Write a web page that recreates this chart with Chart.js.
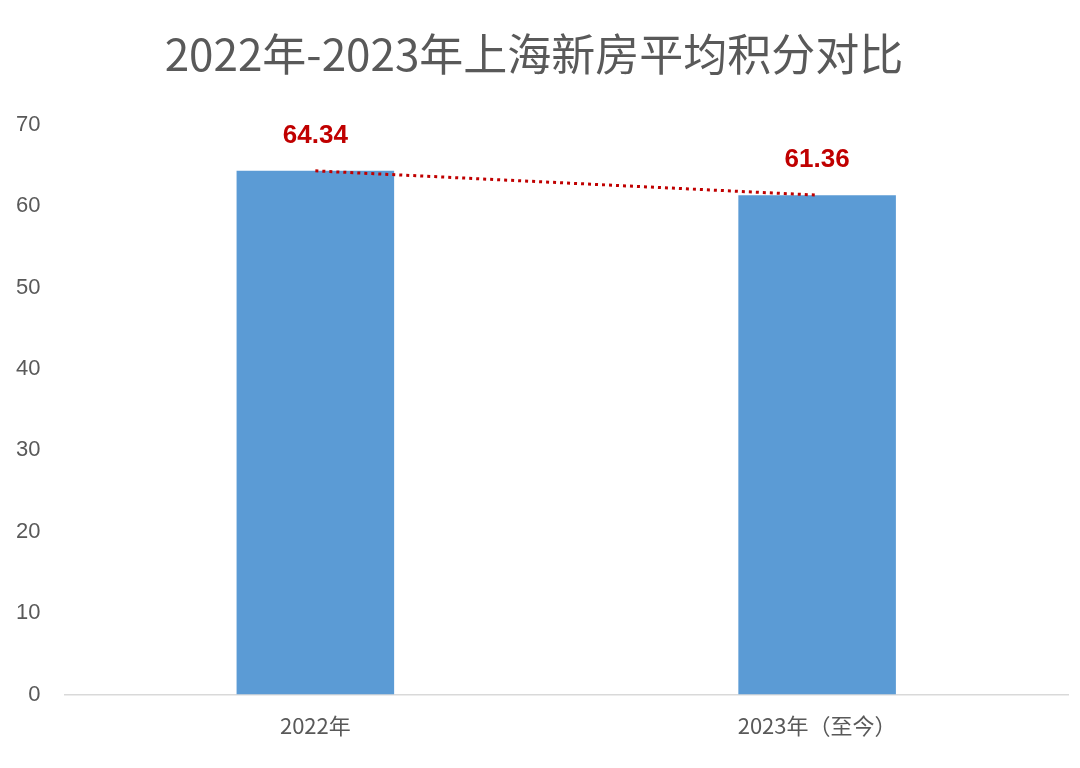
<!DOCTYPE html>
<html><head><meta charset="utf-8">
<script src="https://cdn.jsdelivr.net/npm/chart.js@4/dist/chart.umd.min.js"></script>
<style>html,body{margin:0;padding:0;background:#fff}#w{width:1080px;height:768px}</style>
</head><body><div id="w"><canvas id="c"></canvas></div>
<script>
const categories = ["2022年", "2023年（至今）"];
const values = [64.34, 61.36];
const yTicks = [0,10,20,30,40,50,60,70];
const font = "'Noto Sans CJK SC','Liberation Sans',sans-serif";
const labelPlugin = {
  id: 'lbl',
  afterDatasetsDraw(chart) {
    const meta = chart.getDatasetMeta(1);
    const ctx = chart.ctx;
    ctx.save();
    ctx.font = "bold 26px 'Liberation Sans',Arial,sans-serif";
    ctx.fillStyle = '#c00000';
    ctx.textAlign = 'center';
    ctx.textBaseline = 'bottom';
    meta.data.forEach((p, i) => ctx.fillText(values[i].toFixed(2), p.x, p.y - 22));
    ctx.restore();
  }
};
new Chart(document.getElementById('c'), {
  data: {
    labels: categories,
    datasets: [
      {type:'bar', data: values, backgroundColor:'#5b9bd5', barPercentage:0.314, categoryPercentage:1, order:2},
      {type:'line', data: values, borderColor:'#c00000', borderWidth:3, borderDash:[3,4], pointRadius:0, fill:false, order:1}
    ]
  },
  options: {
    responsive:true, maintainAspectRatio:false, animation:false,
    layout:{padding:{left:0,right:12,top:0,bottom:19}},
    plugins:{
      legend:{display:false}, tooltip:{enabled:false},
      title:{display:true, text:'2022年-2023年上海新房平均积分对比', color:'#595959',
        font:{family:font, size:44, weight:'normal'}, padding:{top:28,bottom:44}}
    },
    scales:{
      x:{grid:{display:false}, border:{color:'#d9d9d9', width:1.5},
        ticks:{color:'#595959', font:{family:font, size:22}, padding:10}},
      y:{min:0, max:70, afterBuildTicks(s){s.ticks = yTicks.map(v=>({value:v}));},
        grid:{display:false}, border:{display:false},
        ticks:{color:'#595959', font:{family:"'Liberation Sans',Arial,sans-serif", size:22}, padding:16}}
    }
  },
  plugins:[labelPlugin]
});
</script></body></html>
